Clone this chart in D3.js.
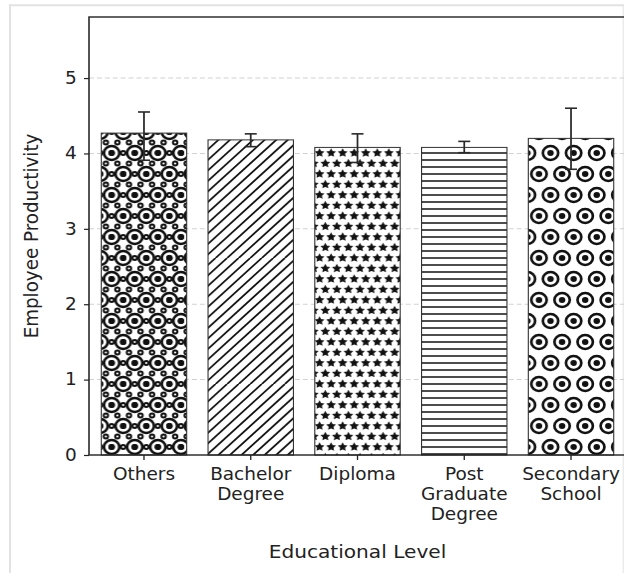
<!DOCTYPE html>
<html>
<head>
<meta charset="utf-8">
<script src="https://cdn.jsdelivr.net/npm/d3@7"></script>
<style>
  body { margin: 0; background: #fff; }
  svg { display: block; }
  text { font-family: "DejaVu Sans", sans-serif; fill: #222; }
</style>
</head>
<body>
<svg id="chart" width="624" height="573"></svg>
<script>
// ---- data ----
const categories = ["Others", "Bachelor\nDegree", "Diploma", "Post\nGraduate\nDegree", "Secondary\nSchool"];
const meanValues = [4.27, 4.18, 4.08, 4.08, 4.20];
const ciLower    = [3.91, 4.09, 3.88, 4.01, 3.79];
const ciUpper    = [4.55, 4.26, 4.26, 4.16, 4.60];
const hatches    = ["Ooo.", "//", "**", "---", "O."];
const yTicks     = [0, 1, 2, 3, 4, 5];
const yMax       = 5.81;
const xTitle     = "Educational Level";
const yTitle     = "Employee Productivity";

// ---- layout ----
const svg = d3.select("#chart");
const sx = 1.1;                       // horizontal stretch of the drawing
const plotLeft = 89 / sx, plotRight = 626 / sx, plotTop = 17, plotBottom = 455;

// light outer frame
const frame = svg.append("g").attr("stroke", "#e2e2e2").attr("fill", "none");
frame.append("line").attr("x1", 9).attr("x2", 624).attr("y1", 5.3).attr("y2", 5.3).attr("stroke-width", 2);
frame.append("line").attr("x1", 10).attr("x2", 10).attr("y1", 4.3).attr("y2", 573).attr("stroke-width", 2);
frame.append("line").attr("x1", 623.2).attr("x2", 623.2).attr("y1", 6).attr("y2", 573).attr("stroke-width", 1);

const g = svg.append("g").attr("transform", `scale(${sx},1)`);

const x = d3.scaleBand().domain(categories).range([plotLeft, plotRight])
  .paddingInner(0.2).paddingOuter(0.115);
const y = d3.scaleLinear().domain([0, yMax]).range([plotBottom, plotTop]);

// ---- hatch patterns (tile anchored to the figure) ----
const T = 126, ox = 7, oy = 6, hatchLW = 1.7;
const defs = svg.append("defs");

function starPoints(cx, cy, R) {
  const pts = [];
  for (let k = 0; k < 10; k++) {
    const r = k % 2 === 0 ? R : R * 0.5;
    const a = -Math.PI / 2 + k * Math.PI / 5;
    pts.push([cx + r * Math.cos(a), cy + r * Math.sin(a)]);
  }
  return pts.map(p => p.join(",")).join(" ");
}

function addHatch(id, hatch) {
  const p = defs.append("pattern").attr("id", id)
    .attr("patternUnits", "userSpaceOnUse")
    .attr("x", ox).attr("y", oy).attr("width", T).attr("height", T);
  p.append("rect").attr("width", T).attr("height", T).attr("fill", "#fff");
  const cnt = ch => hatch.split(ch).length - 1;
  const ink = p.append("g").attr("stroke", "#111").attr("fill", "#111").attr("stroke-width", hatchLW);

  const nNE = cnt("/") * 6;
  if (nNE) {
    const s = T / nNE;
    for (let k = -nNE - 1; k <= nNE + 1; k++) {
      const x0 = k * s;
      ink.append("line").attr("x1", x0).attr("y1", T).attr("x2", x0 + T).attr("y2", 0);
    }
  }
  const nH = cnt("-") * 6;
  if (nH) {
    const s = T / nH;
    for (let k = 0; k <= nH; k++) {
      ink.append("line").attr("x1", 0).attr("x2", T).attr("y1", k * s).attr("y2", k * s);
    }
  }
  function shapes(n, draw) {
    if (!n) return;
    const off = T / n;
    for (let r = -1; r <= n + 1; r++) {
      const odd = ((r % 2) + 2) % 2 === 1;
      for (let c = -1; c <= n + 1; c++) {
        draw((odd ? off / 2 : 0) + c * off, r * off, off);
      }
    }
  }
  // large rings
  shapes(cnt("O") * 6, (cx, cy, off) => {
    const R = 0.35 * off;
    ink.append("circle").attr("cx", cx).attr("cy", cy).attr("r", 0.95 * R)
      .attr("fill", "none").attr("stroke-width", 0.1 * R + hatchLW);
  });
  // small rings
  shapes(cnt("o") * 6, (cx, cy, off) => {
    const R = 0.2 * off;
    ink.append("circle").attr("cx", cx).attr("cy", cy).attr("r", 0.95 * R)
      .attr("fill", "none").attr("stroke-width", 0.1 * R + hatchLW);
  });
  // filled dots
  shapes(cnt(".") * 6, (cx, cy, off) => {
    ink.append("circle").attr("cx", cx).attr("cy", cy).attr("r", 0.1 * off);
  });
  // stars
  shapes(cnt("*") * 6, (cx, cy, off) => {
    ink.append("polygon").attr("points", starPoints(cx, cy, off / 3))
      .attr("stroke-width", 1);
  });
}
hatches.forEach((h, i) => addHatch("hatch" + i, h));

// ---- grid ----
g.append("g").selectAll("line").data(yTicks.filter(t => t > 0)).join("line")
  .attr("x1", plotLeft).attr("x2", plotRight)
  .attr("y1", d => y(d)).attr("y2", d => y(d))
  .attr("stroke", "#d2d2d2").attr("stroke-width", 1)
  .attr("stroke-dasharray", "4.5 2.7");

// ---- bars ----
g.append("g").selectAll("rect").data(categories).join("rect")
  .attr("x", d => x(d))
  .attr("width", x.bandwidth())
  .attr("y", (d, i) => y(meanValues[i]))
  .attr("height", (d, i) => y(0) - y(meanValues[i]))
  .attr("fill", (d, i) => `url(#hatch${i})`)
  .attr("stroke", "#333").attr("stroke-width", 1);

// ---- confidence intervals ----
const capHalf = 6 / sx;
const eb = g.append("g").attr("stroke", "#2a2a2a").attr("stroke-width", 1.6).attr("fill", "none");
categories.forEach((c, i) => {
  const cx = x(c) + x.bandwidth() / 2;
  eb.append("line").attr("x1", cx).attr("x2", cx).attr("y1", y(ciLower[i])).attr("y2", y(ciUpper[i]));
  eb.append("line").attr("x1", cx - capHalf).attr("x2", cx + capHalf).attr("y1", y(ciLower[i])).attr("y2", y(ciLower[i]));
  eb.append("line").attr("x1", cx - capHalf).attr("x2", cx + capHalf).attr("y1", y(ciUpper[i])).attr("y2", y(ciUpper[i]));
});

// ---- axes ----
const yAxis = g.append("g").attr("transform", `translate(${plotLeft},0)`)
  .call(d3.axisLeft(y).tickValues(yTicks).tickFormat(d3.format("d")).tickSize(5 / sx).tickPadding(6.5));
yAxis.select(".domain").remove();
yAxis.selectAll("line").attr("stroke", "#222").attr("stroke-width", 1.2);
yAxis.selectAll("text").attr("font-size", 16.8).attr("font-family", "DejaVu Sans").attr("fill", "#222");

const xAxis = g.append("g").attr("transform", `translate(0,${plotBottom})`)
  .call(d3.axisBottom(x).tickSize(5).tickFormat(""));
xAxis.select(".domain").remove();
xAxis.selectAll("line").attr("stroke", "#222").attr("stroke-width", 1.2);
xAxis.selectAll(".tick").each(function (d) {
  const t = d3.select(this).append("text")
    .attr("font-size", 16.8).attr("font-family", "DejaVu Sans").attr("fill", "#222")
    .attr("text-anchor", "middle");
  d.split("\n").forEach((line, k) => {
    t.append("tspan").attr("x", 0).attr("y", 25.5 + k * 20).text(line);
  });
});

// spines
const sp = g.append("g").attr("stroke", "#222").attr("stroke-width", 1.4).attr("fill", "none");
sp.append("rect").attr("x", plotLeft).attr("y", plotTop)
  .attr("width", plotRight - plotLeft).attr("height", plotBottom - plotTop);

// titles
g.append("text").attr("x", (plotLeft + plotRight) / 2).attr("y", 558)
  .attr("text-anchor", "middle").attr("font-size", 18.3).text(xTitle);
g.append("text").attr("transform", `translate(${38.3 / sx},${(plotTop + plotBottom) / 2}) rotate(-90)`)
  .attr("text-anchor", "middle").attr("font-size", 18.3).text(yTitle);
</script>
</body>
</html>
